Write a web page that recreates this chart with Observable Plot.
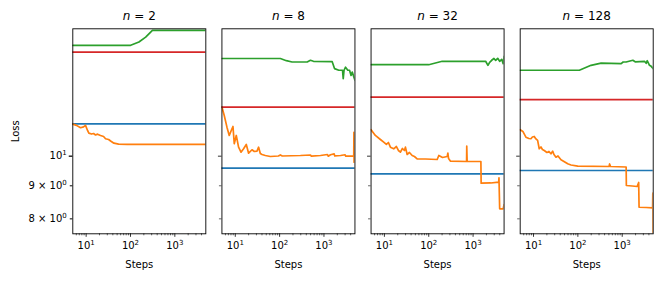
<!DOCTYPE html>
<html><head><meta charset="utf-8">
<script src="https://cdn.jsdelivr.net/npm/d3@7"></script>
<script src="https://cdn.jsdelivr.net/npm/@observablehq/plot@0.6"></script>
<style>body{margin:0;background:#fff}</style>
</head><body><div id="chart"></div>
<script>
const panels = [2, 8, 32, 128];
const blueLoss = [11.22, 9.581, 9.392, 9.503];
const redLoss = [14.49, 11.91, 12.34, 12.23];

const greenN2 = [[5,14.84],[101,14.84],[155,15.02],[220,15.28],[312,15.65],[5000,15.65]];
const orangeN2 = [[5,11.21],[6.06,11.16],[7.47,11.065],[8.73,11.098],[9.68,11.16],[10.75,10.96],[11.5,10.854],[13.24,10.82],[14.69,10.84],[16.3,10.785],[18.09,10.816],[21.1,10.766],[24.7,10.728],[27.4,10.64],[32.1,10.613],[35.6,10.557],[42.3,10.474],[54,10.437],[84.9,10.426],[5000,10.426]];

const greenN8 = [[5,14.16],[104,14.16],[142,14.05],[191,13.985],[418,13.985],[496,14.07],[580,14.02],[1535,14.0],[1730,13.66],[2163,13.58],[2624,13.58],[2720,13.18],[2837,13.58],[3068,13.73],[3457,13.58],[3777,13.58],[4083,13.33],[4347,13.49],[5000,13.1]];
const orangeN8 = [[5,11.91],[5.64,11.56],[6.49,11.089],[7.31,10.766],[8.12,10.959],[8.87,11.116],[9.49,10.452],[10.53,10.766],[11.87,10.326],[13.45,10.143],[15.39,10.267],[17.72,10.426],[19.97,10.107],[23.84,10.231],[26.9,10.169],[30.9,10.18],[33.6,10.326],[36.7,10.097],[40.1,10.06],[47.6,10.025],[61.8,9.989],[93.7,10.007],[104,10.043],[115,10.007],[295,10.025],[496,10.043],[520,10.0],[834,10.025],[1200,10.06],[1250,10.0],[1405,10.05],[1700,10.08],[1750,10.01],[2364,10.025],[3000,10.05],[3100,10.0],[4700,10.014],[4740,10.89],[4780,9.79]];

const greenN32 = [[5,13.85],[100,13.85],[201,14.02],[1920,14.02],[2163,13.82],[2364,13.97],[2624,14.07],[2958,14.16],[3230,14.07],[3586,14.17],[3979,14.02],[4418,14.12],[4775,13.9],[5000,14.27]];
const orangeN32 = [[5,10.987],[6.25,10.766],[8.12,10.613],[9.64,10.512],[11.09,10.426],[12.31,10.5],[13.66,10.326],[16.22,10.267],[18.66,10.35],[20.7,10.205],[22.98,10.143],[25.5,10.278],[28.3,10.205],[29.8,10.326],[32.6,10.06],[36.7,10.133],[42.3,10.025],[47.6,9.989],[54.8,9.908],[84.5,9.9],[155,9.883],[168.8,10.025],[204.6,9.954],[261,9.989],[270,10.107],[280,9.918],[310,9.823],[714,9.813],[720,10.363],[735,9.813],[1500,9.813],[1520,9.083],[2491,9.09],[3777,9.12],[3837,9.259],[3979,8.29],[4775,8.29],[5000,8.418]];

const greenN128 = [[5,13.58],[108,13.58],[198,13.82],[334,13.93],[946,13.9],[1050,13.985],[1227,13.985],[1739,14.07],[1960,13.995],[3181,14.02],[3474,13.92],[3660,14.05],[4127,13.82],[4508,13.77],[5000,13.66]];
const orangeN128 = [[5,10.987],[5.75,10.92],[6.73,10.7],[7.87,10.65],[8.73,10.64],[9.44,10.708],[10.37,10.727],[11.33,10.632],[12.37,10.576],[13.45,10.267],[14.69,10.333],[15.88,10.241],[17.44,10.205],[20.08,10.133],[22.28,10.169],[24.7,10.086],[27,10.18],[28.9,10.06],[32.1,9.964],[35.6,10.007],[41.6,9.873],[48.6,9.813],[59,9.733],[70,9.691],[99.3,9.65],[506,9.64],[520,9.726],[545,9.64],[1227,9.622],[1240,9.009],[1677,8.993],[2175,8.977],[2352,9.106],[2400,8.337],[3474,8.33],[4850,8.316],[4900,8.765],[4950,7.62]];

const xMajorTicks = [10, 100, 1000];
const xMajorLabels = ["10^1", "10^2", "10^3"];
const xMinorTicks = [6,7,8,9,20,30,40,50,60,70,80,90,200,300,400,500,600,700,800,900,2000,3000,4000];
const yMajorTicks = [10];
const yMajorLabels = ["10^1"];
const yMinorTicks = [8, 9];
const yMinorLabels = ["8 × 10^0", "9 × 10^0"];

const toRows = (n, pts) => pts.map(([step, loss]) => ({n, step, loss}));
const greenRows = [
  ...toRows(2, greenN2), ...toRows(8, greenN8), ...toRows(32, greenN32), ...toRows(128, greenN128)
];
const orangeRows = [
  ...toRows(2, orangeN2), ...toRows(8, orangeN8), ...toRows(32, orangeN32), ...toRows(128, orangeN128)
];
const blueRows = panels.map((n, i) => ({n, loss: blueLoss[i]}));
const redRows = panels.map((n, i) => ({n, loss: redLoss[i]}));
const label = (ticks, labels) => d => labels[ticks.findIndex(t => Math.abs(t - d) < 1e-9)] ?? "";

const chart = Plot.plot({
  width: 664,
  height: 285,
  marginLeft: 72.3,
  marginRight: 11.3,
  marginTop: 28.3,
  marginBottom: 51.7,
  style: {fontFamily: "DejaVu Sans", fontSize: "10px", color: "black", background: "white"},
  fx: {domain: panels, paddingInner: 0.108, paddingOuter: 0, round: false, axis: null, label: null},
  x: {type: "log", domain: [5, 5000], axis: null},
  y: {type: "log", domain: [7.585, 15.74], axis: null},
  marks: [
    Plot.ruleY(blueRows, {fx: "n", y: "loss", stroke: "#1f77b4", strokeWidth: 1.7}),
    Plot.line(orangeRows, {fx: "n", x: "step", y: "loss", stroke: "#ff7f0e", strokeWidth: 1.7, clip: true}),
    Plot.line(greenRows, {fx: "n", x: "step", y: "loss", stroke: "#2ca02c", strokeWidth: 1.7, clip: true}),
    Plot.ruleY(redRows, {fx: "n", y: "loss", stroke: "#d62728", strokeWidth: 1.7}),
    Plot.frame({stroke: "black", strokeWidth: 0.9}),
    Plot.axisX({ticks: xMajorTicks, tickSize: 3.5, tickPadding: 5, tickFormat: label(xMajorTicks, xMajorLabels), label: null, strokeWidth: 0.8}),
    Plot.axisX({ticks: xMinorTicks, tickSize: 2, tickFormat: () => "", label: null, strokeWidth: 0.6}),
    Plot.axisY({ticks: yMajorTicks, tickSize: 3.5, tickPadding: 2.5, tickFormat: label(yMajorTicks, yMajorLabels), label: null, strokeWidth: 0.8}),
    Plot.axisY({ticks: yMinorTicks, tickSize: 2.5, tickPadding: 3.5, tickFormat: label(yMinorTicks, yMinorLabels), label: null, strokeWidth: 0.6}),
    Plot.axisY({ticks: yMajorTicks, tickSize: 3.5, tickFormat: () => "", label: null, strokeWidth: 0.8, facetAnchor: null}),
    Plot.axisY({ticks: yMinorTicks, tickSize: 2.5, tickFormat: () => "", label: null, strokeWidth: 0.6, facetAnchor: null}),
    Plot.text(panels, {fx: d => d, text: d => `n = ${d}`, frameAnchor: "top", lineAnchor: "bottom", dy: -8.8, fontSize: 12}),
    Plot.text([panels[0]], {fx: d => d, text: () => "Loss", frameAnchor: "left", textAnchor: "middle", lineAnchor: "middle", rotate: -90, dx: -57.3}),
    Plot.text([null], {text: () => "Steps", frameAnchor: "bottom", lineAnchor: "bottom", dy: 34})
  ]
});

const SVGNS = "http://www.w3.org/2000/svg";
chart.querySelectorAll("text").forEach(t => {
  const txt = t.textContent;
  // italic "n" in facet titles
  let m = /^n = (\d+)$/.exec(txt);
  if (m) {
    t.textContent = "";
    const a = document.createElementNS(SVGNS, "tspan");
    a.setAttribute("font-style", "italic");
    a.textContent = "n";
    const b = document.createElementNS(SVGNS, "tspan");
    b.textContent = " = " + m[1];
    t.appendChild(a); t.appendChild(b);
    return;
  }
  // mathtext-like superscripts in tick labels
  m = /^(.*)\^(\d)$/.exec(txt);
  if (m) {
    t.textContent = "";
    const a = document.createElementNS(SVGNS, "tspan");
    a.textContent = m[1];
    const b = document.createElementNS(SVGNS, "tspan");
    b.setAttribute("font-size", "7px");
    b.setAttribute("dy", "-4");
    b.textContent = m[2];
    t.appendChild(a); t.appendChild(b);
  }
});
document.getElementById("chart").appendChild(chart);
</script>
</body></html>
